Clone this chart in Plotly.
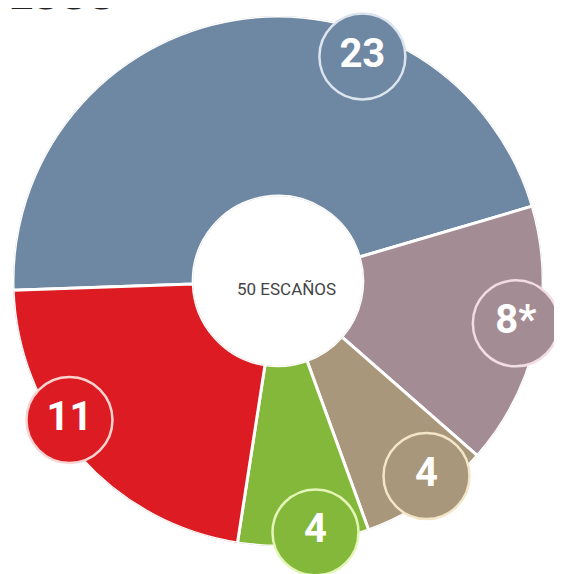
import plotly.graph_objects as go

# Seats per party (total 50)
parties = ['PP', 'Otros', 'Bloque', 'EU', 'PSOE']
seats = [23, 8, 4, 4, 11]
seat_labels = ['23', '8*', '4', '4', '11']
colors = ['#6E87A3', '#A48C94', '#A8977A', '#84B83A', '#DC1C22']
ring_colors = ['#DCE4EE', '#F1DDE3', '#F3E6C8', '#E4F5B8', '#FBD3D0']

# where each label bubble sits inside its slice (fraction of the arc, radius)
label_frac = [0.68, 0.46, 0.40, 0.40, 0.60]
label_r = [0.86, 0.87, 0.89, 0.94, 0.92]

total = sum(seats)
start = -92.0  # degrees clockwise from 12 o'clock
deg = [s / total * 360 for s in seats]
mids, lab_theta = [], []
acc = start
for d, f in zip(deg, label_frac):
    mids.append(acc + d / 2)
    lab_theta.append(acc + d * f)
    acc += d

fig = go.Figure()

fig.add_trace(go.Barpolar(
    r=[1] * len(seats),
    theta=mids,
    width=deg,
    marker=dict(color=colors, line=dict(color='white', width=3)),
    hoverinfo='skip',
    showlegend=False,
))

fig.add_trace(go.Scatterpolar(
    r=label_r,
    theta=lab_theta,
    mode='markers+text',
    text=seat_labels,
    textposition='middle center',
    textfont=dict(color='white', size=40, family='Roboto', weight='bold'),
    marker=dict(size=86, color=colors, line=dict(color=ring_colors, width=2.5)),
    cliponaxis=False,
    hoverinfo='skip',
    showlegend=False,
))

# polar area placed so the ring centre sits at (278, 280) px
fig.update_layout(
    width=562, height=574,
    margin=dict(l=0, r=0, t=0, b=0),
    paper_bgcolor='white',
    showlegend=False,
    polar=dict(
        domain=dict(x=[5 / 562, 535 / 562], y=[1 - 538 / 574, 1 - 8 / 574]),
        hole=0.32,
        bgcolor='white',
        radialaxis=dict(range=[0, 1], visible=False),
        angularaxis=dict(visible=False, direction='clockwise', rotation=90),
    ),
    annotations=[
        dict(text='50 ESCAÑOS', x=278 / 562, y=1 - 281 / 574, xref='paper', yref='paper',
             showarrow=False, font=dict(size=17, color='#444444', family='Roboto')),
        dict(text='<b>1999</b>', x=-0.005, y=1 - 12 / 574, xref='paper', yref='paper',
             xanchor='left', yanchor='bottom', showarrow=False,
             font=dict(size=40, color='#222222', family='DejaVu Sans')),
    ],
)

fig.write_html("out.html")
